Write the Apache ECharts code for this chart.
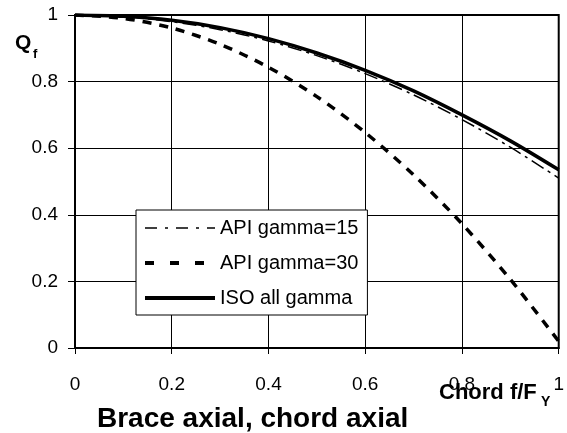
<!DOCTYPE html>
<html>
<head>
<meta charset="utf-8">
<script src="https://cdn.jsdelivr.net/npm/echarts@6/dist/echarts.min.js"></script>
<style>html,body{margin:0;padding:0;background:#fff}#c{width:567px;height:433px}</style>
</head>
<body>
<div id="c"></div>
<script>
const xValues = [0, 0.1, 0.2, 0.3, 0.4, 0.5, 0.6, 0.7, 0.8, 0.9, 1.0];
const api15   = [1, 0.995, 0.980, 0.956, 0.922, 0.878, 0.824, 0.760, 0.686, 0.603, 0.510];
const api30   = [1, 0.990, 0.961, 0.912, 0.843, 0.755, 0.647, 0.520, 0.373, 0.206, 0.020];
const iso     = [1, 0.996, 0.984, 0.962, 0.929, 0.886, 0.834, 0.772, 0.700, 0.622, 0.535];
const seriesNames = ['API gamma=15', 'API gamma=30', 'ISO all gamma'];
const xTicks = [0, 0.2, 0.4, 0.6, 0.8, 1];
const yTicks = [0, 0.2, 0.4, 0.6, 0.8, 1];

const FONT = 'Liberation Sans, Arial, sans-serif';
const pair = arr => xValues.map((x, i) => [x, arr[i]]);
const styles = [
  {color: '#000', width: 1.5, type: [14, 5, 3, 5]},
  {color: '#000', width: 3.5, type: [9, 8]},
  {color: '#000', width: 3.5, type: 'solid'}
];
const legendStyles = [
  {color: '#000', width: 1.5, type: [12, 8, 3, 8]},
  {color: '#000', width: 4, type: [9, 16]},
  {color: '#000', width: 4, type: 'solid'}
];

const chart = echarts.init(document.getElementById('c'), null, {renderer: 'canvas'});
chart.setOption({
  animation: false,
  backgroundColor: '#fff',
  grid: {left: 75, right: 7, top: 15, bottom: 85, show: true, borderColor: '#000', borderWidth: 2, backgroundColor: 'transparent'},
  xAxis: {
    type: 'value', min: 0, max: 1, interval: 0.2,
    axisLine: {show: true, lineStyle: {color: '#000', width: 2}},
    axisTick: {show: true, length: 6, lineStyle: {color: '#000', width: 1}},
    splitLine: {show: true, lineStyle: {color: '#000', width: 1}},
    axisLabel: {fontFamily: FONT, fontSize: 19, color: '#000', margin: 27,
      formatter: v => xTicks.includes(+v.toFixed(1)) ? String(+v.toFixed(1)) : ''}
  },
  yAxis: {
    type: 'value', min: 0, max: 1, interval: 0.2,
    axisLine: {show: true, lineStyle: {color: '#000', width: 2}},
    axisTick: {show: true, length: 7, lineStyle: {color: '#000', width: 1}},
    splitLine: {show: true, lineStyle: {color: '#000', width: 1}},
    axisLabel: {fontFamily: FONT, fontSize: 19, color: '#000', margin: 17,
      formatter: v => yTicks.includes(+v.toFixed(1)) ? String(+v.toFixed(1)) : ''}
  },
  legend: {
    orient: 'vertical', left: 136, top: 210,
    padding: [8, 9, 7, 7],
    itemWidth: 70, itemHeight: 14, itemGap: 15,
    backgroundColor: '#fff', borderColor: '#000', borderWidth: 1, borderRadius: 0,
    textStyle: {fontFamily: FONT, fontSize: 20, color: '#000'},
    itemStyle: {opacity: 0},
    data: seriesNames.map((n, i) => ({name: n, lineStyle: legendStyles[i], itemStyle: {opacity: 0, borderWidth: 0}}))
  },
  series: seriesNames.map((n, i) => ({
    name: n, type: 'line', data: pair([api15, api30, iso][i]), smooth: 0.3,
    symbol: 'none', showSymbol: false, z: i === 2 ? 2 : 3,
    lineStyle: styles[i], itemStyle: {color: '#000'}
  })),
  graphic: [
    {type: 'text', left: 15, top: 33, style: {text: 'Q', fontFamily: FONT, fontWeight: 'bold', fontSize: 21, fill: '#000'}},
    {type: 'text', left: 33, top: 48, style: {text: 'f', fontFamily: FONT, fontWeight: 'bold', fontSize: 13, fill: '#000'}},
    {type: 'text', left: 439, top: 382, style: {text: 'Chord f/F', fontFamily: FONT, fontWeight: 'bold', fontSize: 22, fill: '#000'}},
    {type: 'text', left: 541, top: 395, style: {text: 'Y', fontFamily: FONT, fontWeight: 'bold', fontSize: 14, fill: '#000'}},
    {type: 'text', left: 97, top: 405, style: {text: 'Brace axial, chord axial', fontFamily: FONT, fontWeight: 'bold', fontSize: 28, fill: '#000'}}
  ]
});
</script>
</body>
</html>
